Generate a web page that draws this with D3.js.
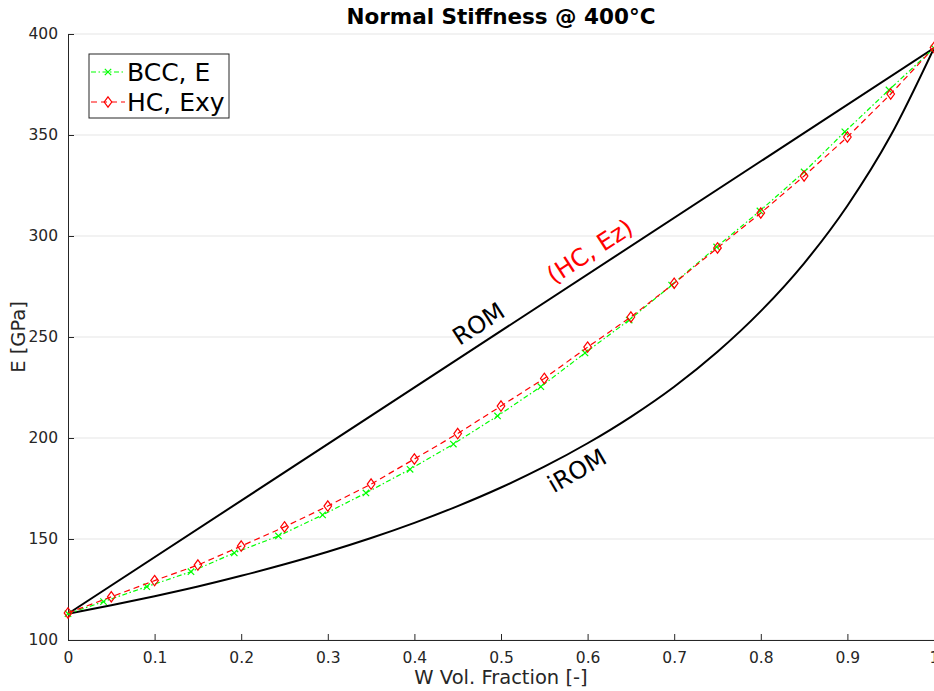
<!DOCTYPE html>
<html>
<head>
<meta charset="utf-8">
<script src="https://cdn.jsdelivr.net/npm/d3@7"></script>
<style>
  body { margin: 0; background: #fff; }
  svg { display: block; font-family: "DejaVu Sans", sans-serif; }
</style>
</head>
<body>
<div id="chart"></div>
<script>
// volume fractions and moduli
const romX = [0, 1];
const romE = [113, 393];

const iromX = [0, 0.05, 0.1, 0.15, 0.2, 0.25, 0.3, 0.35, 0.4, 0.45, 0.5,
               0.55, 0.6, 0.65, 0.7, 0.75, 0.8, 0.85, 0.9, 0.95, 1];
const iromE = [113, 117.2, 121.7, 126.5, 131.8, 137.5, 143.7, 150.5, 158.0, 166.3, 175.5,
               185.8, 197.4, 210.5, 225.4, 242.7, 262.8, 286.5, 315.0, 349.7, 393];

const bccX = [0, 0.041, 0.091, 0.142, 0.192, 0.243, 0.294, 0.344, 0.395, 0.445, 0.496,
              0.546, 0.597, 0.648, 0.697, 0.749, 0.799, 0.85, 0.897, 0.948, 1];
const bccE = [113, 119, 126.4, 133.8, 143.1, 151.5, 161.9, 172.8, 184.5, 197, 210.9,
              225.4, 242.1, 258.4, 275.7, 294.6, 312.4, 331.7, 351.6, 372.3, 393];

const hcX = [0, 0.05, 0.1, 0.15, 0.2, 0.25, 0.3, 0.35, 0.4, 0.45, 0.5,
             0.55, 0.6, 0.65, 0.7, 0.75, 0.8, 0.85, 0.9, 0.95, 1];
const hcE = [113.4, 121.4, 129.4, 137.1, 146.5, 156, 166.3, 177.2, 189.6, 202.2, 215.8,
             229.5, 245, 259.9, 276.6, 294.1, 311.4, 329.7, 349, 370.3, 393.3];

const xTicks = [0, 0.1, 0.2, 0.3, 0.4, 0.5, 0.6, 0.7, 0.8, 0.9, 1];
const yTicks = [100, 150, 200, 250, 300, 350, 400];

const W = 934, H = 691;
const margin = { top: 34, right: 0, bottom: 51, left: 68 };
const axisColor = '#262626';

const svg = d3.select('#chart').append('svg')
    .attr('width', W)
    .attr('height', H);

const x = d3.scaleLinear().domain([0, 1]).range([margin.left, W - margin.right]);
const y = d3.scaleLinear().domain([100, 400]).range([H - margin.bottom, margin.top]);

// horizontal grid
svg.append('g')
    .selectAll('line')
    .data(yTicks)
    .join('line')
    .attr('x1', x(0)).attr('x2', x(1))
    .attr('y1', d => y(d)).attr('y2', d => y(d))
    .attr('stroke', '#e5e5e5')
    .attr('stroke-width', 1);

// axes, MATLAB-style inward ticks
const xAxis = svg.append('g')
    .attr('transform', `translate(0,${y(100)})`)
    .call(d3.axisBottom(x).tickValues(xTicks).tickSize(-6).tickPadding(12).tickFormat(d3.format('')));
const yAxis = svg.append('g')
    .attr('transform', `translate(${x(0)},0)`)
    .call(d3.axisLeft(y).tickValues(yTicks).tickSize(-6).tickPadding(10));

[xAxis, yAxis].forEach(g => {
    g.select('.domain').attr('stroke', axisColor).attr('stroke-width', 1);
    g.selectAll('.tick line').attr('stroke', axisColor);
    g.selectAll('.tick text')
        .attr('fill', axisColor)
        .style('font-size', '15.5px')
        .style('font-family', '"DejaVu Sans", sans-serif');
});

const line = d3.line()
    .x(d => x(d[0]))
    .y(d => y(d[1]));

// ROM and iROM bounds
svg.append('path')
    .datum(d3.zip(romX, romE))
    .attr('d', line)
    .attr('fill', 'none')
    .attr('stroke', '#000')
    .attr('stroke-width', 2);

svg.append('path')
    .datum(d3.zip(iromX, iromE))
    .attr('d', line.curve(d3.curveMonotoneX))
    .attr('fill', 'none')
    .attr('stroke', '#000')
    .attr('stroke-width', 2);
line.curve(d3.curveLinear);

// BCC, E : green dash-dot with x markers
const bcc = d3.zip(bccX, bccE);
svg.append('path')
    .datum(bcc)
    .attr('d', line)
    .attr('fill', 'none')
    .attr('stroke', '#00ff00')
    .attr('stroke-width', 1.2)
    .attr('stroke-dasharray', '5,2.5,1.5,2.5');

function xMark(g, cx, cy, s, color) {
    g.append('path')
        .attr('d', `M${cx - s},${cy - s}L${cx + s},${cy + s}M${cx - s},${cy + s}L${cx + s},${cy - s}`)
        .attr('stroke', color)
        .attr('stroke-width', 1.2)
        .attr('fill', 'none');
}
const bccMarks = svg.append('g');
bcc.forEach(d => xMark(bccMarks, x(d[0]), y(d[1]), 3.2, '#00ff00'));

// HC, Exy : red dashed with diamond markers
const hc = d3.zip(hcX, hcE);
svg.append('path')
    .datum(hc)
    .attr('d', line)
    .attr('fill', 'none')
    .attr('stroke', '#ff0000')
    .attr('stroke-width', 1.2)
    .attr('stroke-dasharray', '6,4');

function diamond(g, cx, cy, w, h, color) {
    g.append('path')
        .attr('d', `M${cx},${cy - h}L${cx + w},${cy}L${cx},${cy + h}L${cx - w},${cy}Z`)
        .attr('stroke', color)
        .attr('stroke-width', 1.2)
        .attr('fill', 'none');
}
const hcMarks = svg.append('g');
hc.forEach(d => diamond(hcMarks, x(d[0]), y(d[1]), 3.8, 5.2, '#ff0000'));

// annotations along the curves
svg.append('text')
    .attr('transform', `translate(${x(0.452)},${y(245.5)}) rotate(-33)`)
    .style('font-size', '24px')
    .attr('fill', '#000')
    .text('ROM');

svg.append('text')
    .attr('transform', `translate(${x(0.561)},${y(276)}) rotate(-33)`)
    .style('font-size', '24px')
    .attr('fill', '#ff0000')
    .text('(HC, Ez)');

svg.append('text')
    .attr('transform', `translate(${x(0.561)},${y(172.5)}) rotate(-30)`)
    .style('font-size', '24px')
    .attr('fill', '#000')
    .text('iROM');

// title and axis labels
svg.append('text')
    .attr('x', x(0.5)).attr('y', 24)
    .attr('text-anchor', 'middle')
    .style('font-size', '21.5px')
    .style('font-weight', 'bold')
    .attr('fill', '#000')
    .text('Normal Stiffness @ 400°C');

svg.append('text')
    .attr('x', x(0.5)).attr('y', 684)
    .attr('text-anchor', 'middle')
    .style('font-size', '19.5px')
    .attr('fill', axisColor)
    .text('W Vol. Fraction [-]');

svg.append('text')
    .attr('transform', `translate(25,${y(250)}) rotate(-90)`)
    .attr('text-anchor', 'middle')
    .style('font-size', '19.5px')
    .attr('fill', axisColor)
    .text('E [GPa]');

// legend
const legend = svg.append('g').attr('transform', 'translate(89,54)');
legend.append('rect')
    .attr('width', 140).attr('height', 64)
    .attr('fill', '#fff')
    .attr('stroke', '#262626')
    .attr('stroke-width', 1);

const legendItems = [
    { label: 'BCC, E', color: '#00ff00', dash: '5,2.5,1.5,2.5', marker: 'x' },
    { label: 'HC, Exy', color: '#ff0000', dash: '6,4', marker: 'd' }
];
legendItems.forEach((item, i) => {
    const cy = 18 + i * 30;
    legend.append('line')
        .attr('x1', 2).attr('x2', 36)
        .attr('y1', cy).attr('y2', cy)
        .attr('stroke', item.color)
        .attr('stroke-width', 1.2)
        .attr('stroke-dasharray', item.dash);
    if (item.marker === 'x') xMark(legend, 19, cy, 3.2, item.color);
    else diamond(legend, 19, cy, 3.8, 5.2, item.color);
    legend.append('text')
        .attr('x', 38).attr('y', cy + 9)
        .style('font-size', '25px')
        .attr('fill', '#000')
        .text(item.label);
});
</script>
</body>
</html>
